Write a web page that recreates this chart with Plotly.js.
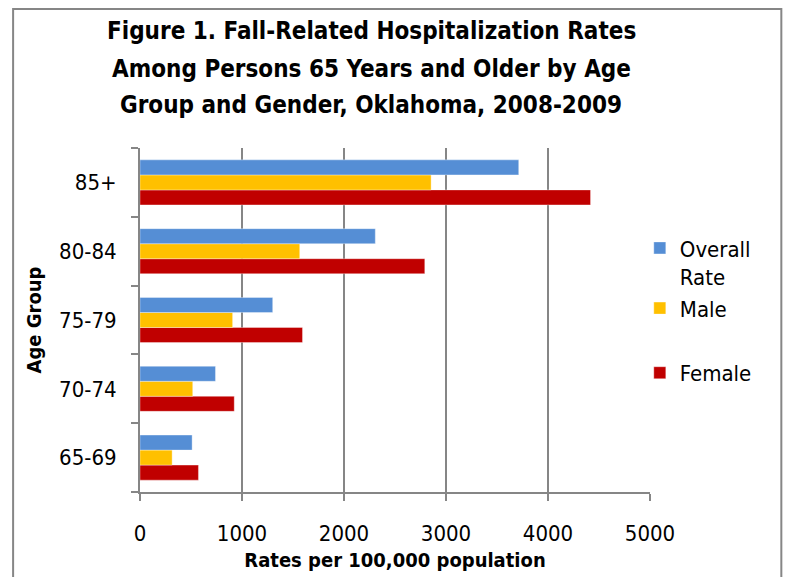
<!DOCTYPE html>
<html>
<head>
<meta charset="utf-8">
<script src="https://cdn.plot.ly/plotly-3.0.1.min.js"></script>
<style>
html,body{margin:0;padding:0;background:#fff;}
#chart{width:788px;height:577px;}
</style>
</head>
<body>
<div id="chart"></div>
<script>
const ageGroups = ["65-69", "70-74", "75-79", "80-84", "85+"];
const overallRate = [511, 740, 1301, 2307, 3713];
const maleRate = [315, 517, 908, 1566, 2854];
const femaleRate = [573, 924, 1593, 2792, 4417];
const xTicks = [0, 1000, 2000, 3000, 4000, 5000];
const titleLines = [
  "Figure 1. Fall-Related Hospitalization Rates",
  "Among Persons 65 Years and Older by Age",
  "Group and Gender, Oklahoma, 2008-2009"
];

const FONT = "'Liberation Sans Narrow', 'Arial Narrow', 'DejaVu Sans Condensed', sans-serif";
const GRID = "#868686";

const traces = [
  {type: "bar", orientation: "h", name: "Female", y: ageGroups, x: femaleRate,
   marker: {color: "#C00000", line: {color: "rgba(255,255,255,0.35)", width: 1}},
   legendgroup: "g2", legendrank: 3},
  {type: "bar", orientation: "h", name: "Male", y: ageGroups, x: maleRate,
   marker: {color: "#FFC000", line: {color: "rgba(255,255,255,0.35)", width: 1}},
   legendgroup: "g1", legendrank: 2},
  {type: "bar", orientation: "h", name: "Overall<br>Rate", y: ageGroups, x: overallRate,
   marker: {color: "#558ED5", line: {color: "rgba(255,255,255,0.35)", width: 1}},
   legendgroup: "g1", legendrank: 1}
];

// title line vertical centres (pixels from top of page)
const titleY = [31, 69, 105];
const annotations = titleLines.map((t, i) => ({
  text: "<b>" + t + "</b>",
  xref: "paper", yref: "paper",
  x: (371 - 140) / 510, xanchor: "center",
  y: (492 - titleY[i]) / 344, yanchor: "middle",
  showarrow: false,
  font: {family: FONT, size: 24, color: "#000"}
}));

const layout = {
  width: 788, height: 577,
  paper_bgcolor: "#fff", plot_bgcolor: "#fff",
  font: {family: FONT, size: 22, color: "#000"},
  margin: {l: 140, r: 138, t: 148, b: 85, autoexpand: false},
  barmode: "group",
  bargap: 0.345,
  bargroupgap: 0,
  annotations: annotations,
  xaxis: {
    range: [0, 5000],
    tickvals: xTicks,
    ticktext: xTicks.map(String),
    showgrid: true, gridcolor: GRID, gridwidth: 2,
    showline: true, linecolor: GRID, linewidth: 2,
    ticks: "outside", ticklen: 7, tickwidth: 2, tickcolor: GRID,
    ticklabelstandoff: 14,
    zeroline: false,
    tickfont: {family: FONT, size: 22, color: "#000"},
    title: {text: "<b>Rates per 100,000 population</b>", font: {family: FONT, size: 20, color: "#000"}, standoff: 8},
    fixedrange: true
  },
  yaxis: {
    type: "category",
    categoryorder: "array", categoryarray: ageGroups,
    showgrid: false,
    showline: true, linecolor: GRID, linewidth: 2,
    ticks: "outside", ticklen: 7, tickwidth: 2, tickcolor: GRID,
    tickson: "boundaries",
    ticklabelstandoff: 17,
    tickfont: {family: FONT, size: 22, color: "#000"},
    title: {text: "<b>Age Group</b>", font: {family: FONT, size: 20, color: "#000"}, standoff: 12},
    fixedrange: true
  },
  showlegend: true,
  legend: {
    x: 0.98, xanchor: "left", y: 0.77, yanchor: "top",
    traceorder: "grouped",
    tracegroupgap: 33,
    valign: "top",
    font: {family: FONT, size: 22, color: "#000"},
    bgcolor: "rgba(0,0,0,0)"
  },
  shapes: [
    {type: "rect", xref: "paper", yref: "paper", x0: -0.2488, x1: 1.2575, y0: -0.26, y1: 1.404, line: {color: GRID, width: 2}, fillcolor: "rgba(0,0,0,0)", layer: "below"}
  ]
};

Plotly.newPlot("chart", traces, layout, {displayModeBar: false, staticPlot: true});
</script>
</body>
</html>
